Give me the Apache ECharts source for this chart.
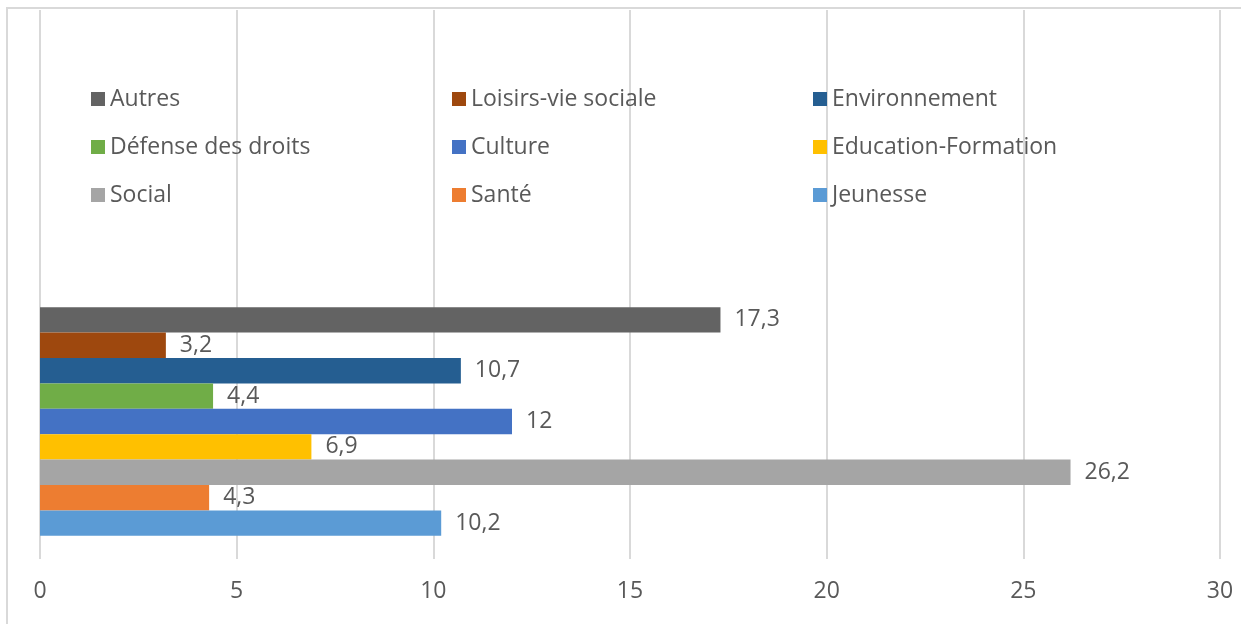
<!DOCTYPE html>
<html>
<head>
<meta charset="utf-8">
<script src="https://cdn.jsdelivr.net/npm/echarts@6/dist/echarts.min.js"></script>
<style>
  html, body { margin: 0; padding: 0; background: #fff; }
  #chart { width: 1241px; height: 624px; }
</style>
</head>
<body>
<div id="chart"></div>
<script>
// bars listed top to bottom
const seriesNames = ['Autres', 'Loisirs-vie sociale', 'Environnement', 'Défense des droits',
    'Culture', 'Education-Formation', 'Social', 'Santé', 'Jeunesse'];
const seriesValues = [17.3, 3.2, 10.7, 4.4, 12, 6.9, 26.2, 4.3, 10.2];
const seriesColors = ['#636363', '#9E480E', '#255E91', '#70AD47', '#4472C4',
    '#FFC000', '#A5A5A5', '#ED7D31', '#5B9BD5'];
const categories = [''];
const legendCols = [
    ['Autres', 'Défense des droits', 'Social'],
    ['Loisirs-vie sociale', 'Culture', 'Santé'],
    ['Environnement', 'Education-Formation', 'Jeunesse']
];
const legendLeft = [86, 447, 808];

const textColor = '#595959';
const gridColor = '#d9d9d9';
const font = '"Open Sans", "Liberation Sans", sans-serif';

const myChart = echarts.init(document.getElementById('chart'));

const legends = legendCols.map((col, i) => ({
    orient: 'vertical',
    left: legendLeft[i],
    top: 82,
    itemWidth: 14,
    itemHeight: 14,
    itemGap: 24,
    icon: 'rect',
    selectedMode: false,
    data: col,
    textStyle: { color: textColor, fontSize: 23, fontFamily: font, lineHeight: 24, padding: [0, 0, 0, 0] }
}));

const series = seriesNames.map((name, i) => ({
    name: name,
    type: 'bar',
    xAxisIndex: 1,
    yAxisIndex: 1,
    barWidth: 25.4,
    barGap: '0%',
    itemStyle: { color: seriesColors[i] },
    label: {
        show: true,
        position: 'right',
        distance: 14,
        color: textColor,
        fontSize: 23,
        fontFamily: font,
        formatter: p => String(p.value).replace('.', ',')
    },
    data: [seriesValues[i]]
}));

const option = {
    animation: false,
    backgroundColor: '#fff',
    legend: legends,
    graphic: [{
        type: 'rect',
        shape: { x: 7, y: 8, width: 1400, height: 800 },
        style: { fill: 'none', stroke: gridColor, lineWidth: 2 },
        silent: true
    }],
    grid: [
        { left: 40, right: 21, top: 10, bottom: 65 },
        { left: 40, right: 21, top: 284, bottom: 65 }
    ],
    xAxis: [
        {
            gridIndex: 0,
            type: 'value',
            min: 0,
            max: 30,
            interval: 5,
            axisLine: { show: false },
            axisTick: { show: false },
            splitLine: { lineStyle: { color: gridColor, width: 2 } },
            axisLabel: { color: textColor, fontSize: 23, fontFamily: font, margin: 21 }
        },
        {
            gridIndex: 1,
            type: 'value',
            min: 0,
            max: 30,
            show: false
        }
    ],
    yAxis: [
        { gridIndex: 0, type: 'category', data: categories, show: false },
        { gridIndex: 1, type: 'category', data: categories, show: false }
    ],
    series: series
};
myChart.setOption(option);
</script>
</body>
</html>
